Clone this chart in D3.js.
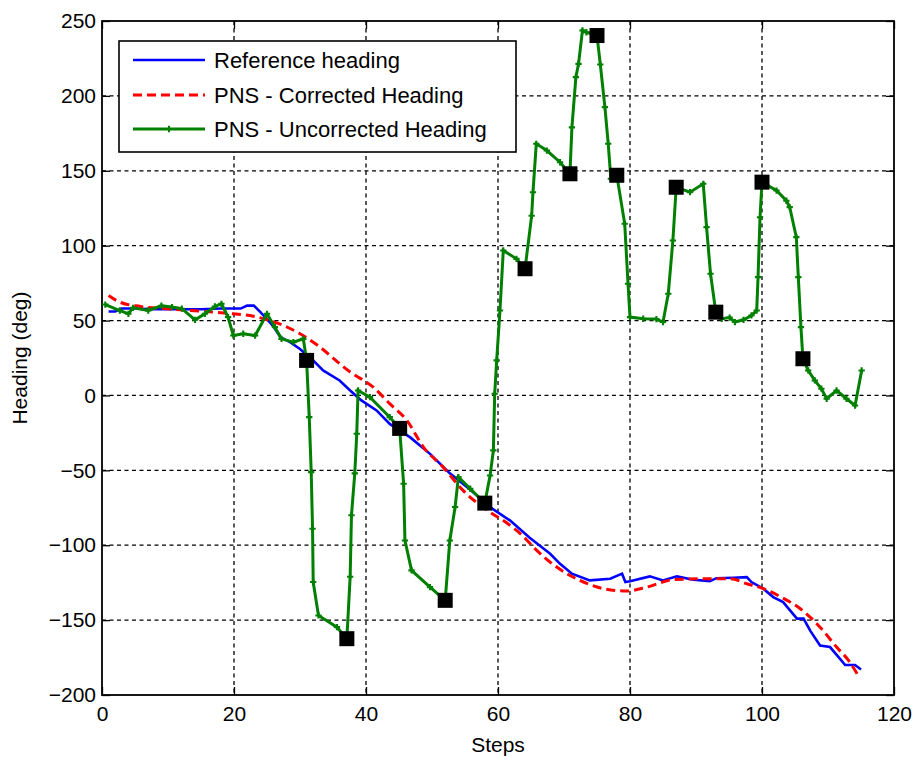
<!DOCTYPE html>
<html><head><meta charset="utf-8">
<script src="https://cdn.jsdelivr.net/npm/d3@7"></script>
<style>
html,body{margin:0;padding:0;background:#fff;}
text{font-family:"Liberation Sans",Arial,sans-serif;fill:#000;}
</style></head>
<body>
<svg id="chart" width="916" height="760"></svg>
<script>
// ---- data ----
const xTicks = [0, 20, 40, 60, 80, 100, 120];
const yTicks = [-200, -150, -100, -50, 0, 50, 100, 150, 200, 250];
const seriesNames = ["Reference heading", "PNS - Corrected Heading", "PNS - Uncorrected Heading"];

const refSteps = [1,2,3,5,8,12,15,18,21,22,23,24,25,26,27,28.5,30,32,33.5,36,37.6,39.3,41.6,43.6,46.7,49.7,52.7,55.8,58.8,61.8,64.8,67.9,69.4,71.2,73.9,77,78.8,79.3,80,83,85,87.1,89.6,92.1,93.1,95.7,97.7,98.4,100.2,101.7,103.2,105.3,106.3,107.3,108.8,110.3,111.6,112.6,114.1,115];
const refHeading = [56,56,58,58,57.5,57.5,57.5,58,58,60,60,55.6,51,46,39,35.6,31,23.4,16.7,10,3.3,-3.3,-10,-19,-28,-39,-52,-63,-74.6,-83.4,-95,-105.7,-112.4,-119,-123.5,-122.4,-119,-124.6,-124,-120.8,-123.5,-120.8,-123,-124,-122,-121.7,-121.3,-124.6,-129,-134.6,-138,-149,-149,-157,-167,-168,-174.7,-180,-180,-183];

const corrSteps = [1,2.7,5.8,9.8,14.8,19.9,22.4,25,27.5,30,32.5,37.6,41.1,43.6,46.2,48.7,51.7,54.7,58.8,61.3,63.8,65.3,68.9,72.4,76,79.5,82.5,86.6,91.6,95.2,97.7,100.2,102.7,105.8,108.8,111.3,113.3,114.7];
const corrHeading = [66.8,62.3,59.4,57.9,56.3,54.5,53.4,50.5,46.7,41.2,34,15.6,5.5,-5.5,-16.7,-34.5,-47.9,-63.4,-78,-85,-94,-101,-114.6,-123.5,-129,-130.6,-128,-123,-122.4,-122.4,-125.7,-129,-134.2,-142.4,-154.7,-168,-178,-188];

const uncorrSteps = [0.5,2.7,4.0,4.7,7.0,9.0,10.6,12.1,14.1,15.6,17.1,18.1,19.1,19.9,21.4,23.2,25.0,26.2,27.2,29.0,30.5,31.0,31.4,31.7,31.9,32.0,32.8,35.6,37.1,37.6,37.8,38.3,38.6,38.8,40.6,43.6,45.1,45.7,45.9,46.9,49.7,52.0,52.7,53.5,54.0,55.8,58.0,58.8,59.3,59.5,59.8,60.3,60.8,62.8,64.1,65.1,65.3,65.8,67.4,69.4,70.9,71.2,71.8,72.2,72.8,73.4,75.0,75.5,76.2,76.7,77.1,78.0,79.2,79.7,80.0,82,84,85.0,85.8,86.5,87.0,89.1,91.1,91.6,92.2,93.0,93.9,95.1,95.9,97.2,98.4,99.2,99.4,99.7,100.0,102.2,103.7,104.2,105.2,105.5,105.9,106.2,107.0,108.0,109.0,109.8,111.3,112.8,114.1,115.1];
const uncorrHeading = [60.7,56.7,54.5,58.5,56.7,59.9,59,57.9,50.5,54.5,59.4,61.2,52.3,40,41.2,40,54.5,45.6,37.8,35.6,37.8,23.4,-14.5,-51.2,-89,-124.6,-146.9,-154.7,-162.4,-121,-80,-52,-25.6,3.3,-1.1,-14.5,-22,-59,-96.8,-116.8,-128,-136.8,-96.8,-74.5,-54.5,-62.3,-71.9,-53.4,-36.7,1.1,23.4,56.7,96.8,91.2,84.6,120,135.7,168,163.5,155.7,148,179,212.5,221.4,243.7,242.5,240.3,221,192.5,168,144.7,147,114.6,74.6,52.3,51.2,51,49,67.9,103.5,139,135.7,141.3,112.4,81.2,55.6,51.2,52,49,50.5,53.4,56.7,79,119,142.4,136.8,130,125.7,105.7,79,45.6,24.5,16.7,10,4.5,-2.2,3.3,-2.2,-6.7,16.7];

const squareSteps = [31,37.1,45.1,52,58,64.1,70.9,75,78,87,93,100,106.2];
const squareHeading = [23.4,-162.4,-22,-136.8,-71.9,84.6,148,240.3,147,139,55.6,142.4,24.5];

// ---- layout ----
const L = 102, R = 894, T = 21, B = 695;
const svg = d3.select("#chart");
const x = d3.scaleLinear().domain([0, 120]).range([L, R]);
const y = d3.scaleLinear().domain([-200, 250]).range([B, T]);

// grid
const grid = svg.append("g");
grid.selectAll("line.vg").data(xTicks.slice(1, -1)).join("line")
  .attr("x1", d => x(d)).attr("x2", d => x(d)).attr("y1", T).attr("y2", B)
  .attr("stroke", "#000").attr("stroke-width", 1.3).attr("stroke-dasharray", "4,3.5");
grid.selectAll("line.hg").data(yTicks.slice(1, -1)).join("line")
  .attr("y1", d => y(d)).attr("y2", d => y(d)).attr("x1", L).attr("x2", R)
  .attr("stroke", "#000").attr("stroke-width", 1.3).attr("stroke-dasharray", "4,3.5");

// axes with inner ticks
const tickLen = 8;
const fmt = d3.format("d");
svg.append("g").attr("transform", `translate(0,${B})`)
  .call(d3.axisBottom(x).tickValues(xTicks).tickSize(-tickLen).tickPadding(11).tickFormat(fmt));
svg.append("g").attr("transform", `translate(0,${T})`)
  .call(d3.axisTop(x).tickValues(xTicks).tickSize(-tickLen).tickFormat(""));
svg.append("g").attr("transform", `translate(${L},0)`)
  .call(d3.axisLeft(y).tickValues(yTicks).tickSize(-tickLen).tickPadding(6).tickFormat(fmt));
svg.append("g").attr("transform", `translate(${R},0)`)
  .call(d3.axisRight(y).tickValues(yTicks).tickSize(-tickLen).tickFormat(""));
svg.selectAll(".domain").remove();
svg.selectAll(".tick line").attr("stroke", "#000").attr("stroke-width", 1.3);
svg.selectAll(".tick text").attr("font-size", 21).attr("font-family", "Liberation Sans, Arial, sans-serif").attr("fill", "#000");

svg.append("rect").attr("x", L).attr("y", T).attr("width", R - L).attr("height", B - T)
  .attr("fill", "none").attr("stroke", "#000").attr("stroke-width", 1.8);

// lines
const line = d3.line().x(d => x(d[0])).y(d => y(d[1]));
const refData = refSteps.map((s, i) => [s, refHeading[i]]);
const corrData = corrSteps.map((s, i) => [s, corrHeading[i]]);
const uncData = uncorrSteps.map((s, i) => [s, uncorrHeading[i]]);
const sqData = squareSteps.map((s, i) => [s, squareHeading[i]]);

svg.append("path").datum(refData).attr("d", line)
  .attr("fill", "none").attr("stroke", "#0000ff").attr("stroke-width", 2.6);
svg.append("path").datum(corrData).attr("d", d3.line().curve(d3.curveMonotoneX).x(d => x(d[0])).y(d => y(d[1])))
  .attr("fill", "none").attr("stroke", "#ff0000").attr("stroke-width", 3).attr("stroke-dasharray", "9,5");
svg.append("path").datum(uncData).attr("d", line)
  .attr("fill", "none").attr("stroke", "#008000").attr("stroke-width", 3);
const plus = d3.symbol().type(d3.symbolCross).size(22);
svg.append("g").selectAll("path").data(uncData).join("path")
  .attr("transform", d => `translate(${x(d[0])},${y(d[1])})`)
  .attr("d", plus).attr("fill", "#008000");

// squares
const sq = 15;
svg.append("g").selectAll("rect").data(sqData).join("rect")
  .attr("x", d => x(d[0]) - sq / 2).attr("y", d => y(d[1]) - sq / 2)
  .attr("width", sq).attr("height", sq).attr("fill", "#000");

// legend
const lg = svg.append("g");
lg.append("rect").attr("x", 119).attr("y", 41).attr("width", 397).attr("height", 111)
  .attr("fill", "#fff").attr("stroke", "#000").attr("stroke-width", 1.6);
const rowsY = [60, 95, 129];
const styles = [
  {c: "#0000ff", w: 2.6, dash: null, mk: false},
  {c: "#ff0000", w: 3, dash: "9,5", mk: false},
  {c: "#008000", w: 3, dash: null, mk: true}
];
seriesNames.forEach((name, i) => {
  const st = styles[i];
  const ln = lg.append("line").attr("x1", 133).attr("x2", 205).attr("y1", rowsY[i]).attr("y2", rowsY[i])
    .attr("stroke", st.c).attr("stroke-width", st.w);
  if (st.dash) ln.attr("stroke-dasharray", st.dash);
  if (st.mk) lg.append("path").attr("transform", `translate(169,${rowsY[i]})`).attr("d", plus).attr("fill", st.c);
  lg.append("text").attr("x", 214).attr("y", rowsY[i] + 8).attr("font-size", 22).text(name);
});

// axis titles
svg.append("text").attr("x", (L + R) / 2).attr("y", 752).attr("text-anchor", "middle")
  .attr("font-size", 21).text("Steps");
svg.append("text").attr("transform", `translate(27,${(T + B) / 2}) rotate(-90)`).attr("text-anchor", "middle")
  .attr("font-size", 21).text("Heading (deg)");
</script>
</body></html>
